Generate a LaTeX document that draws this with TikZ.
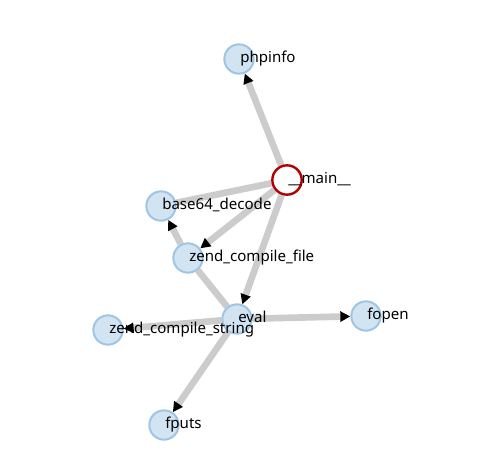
\documentclass[tikz,border=0pt]{standalone}
\usepackage{fontspec}
\setmainfont{Noto Sans}
\usetikzlibrary{arrows.meta,backgrounds}
\definecolor{edgegray}{RGB}{204,204,204}
\definecolor{fnfill}{RGB}{210,227,242}
\definecolor{fnline}{RGB}{158,197,227}
\definecolor{entryred}{RGB}{178,0,0}
\tikzset{
  fn/.style={circle,draw=fnline,fill=fnfill,line width=1.5pt,minimum size=22pt,inner sep=0pt},
  entry/.style={fn,draw=entryred,fill=white,line width=1.8pt},
  fnlabel/.style={anchor=base west,inner sep=0pt,xshift=0.75pt,yshift=-2.5pt,
    font=\fontsize{11.3}{13}\selectfont},
  call/.style={draw=edgegray,line width=5pt,-{Triangle[length=7.5pt,width=7.5pt,color=black]}},
  link/.style={draw=edgegray,line width=5pt},
}
\begin{document}
\begin{tikzpicture}[x=0.75pt,y=-0.75pt]
  \useasboundingbox (0,0) rectangle (481,475);
  \node[fn] (phpinfo) at (239,59) {};
  \node[entry] (main) at (287,180) {};
  \node[fn] (b64) at (161,206) {};
  \node[fn] (zcf) at (188,258) {};
  \node[fn] (eval) at (237,319) {};
  \node[fn] (fopen) at (366,316) {};
  \node[fn] (zcs) at (108,330) {};
  \node[fn] (fputs) at (164,425) {};
  % names start at the circle centres
  \node[fnlabel] (phpinfo-l) at (phpinfo.center) {phpinfo};
  \node[fnlabel] (main-l) at (main.center) {\_\_main\_\_};
  \node[fnlabel] (b64-l) at (b64.center) {base64\_decode};
  \node[fnlabel] (zcf-l) at (zcf.center) {zend\_compile\_file};
  \node[fnlabel] (eval-l) at (eval.center) {eval};
  \node[fnlabel] (fopen-l) at (fopen.center) {fopen};
  \node[fnlabel] (zcs-l) at (zcs.center) {zend\_compile\_string};
  \node[fnlabel] (fputs-l) at (fputs.center) {fputs};
  % call edges under the nodes
  \begin{pgfonlayer}{background}
    \draw[call] (main) -- (phpinfo);
    \draw[link] (main) -- (b64);
    \draw[call] (main) -- (zcf);
    \draw[call] (main) -- (eval);
    \draw[call] (zcf) -- (b64);
    \draw[link] (zcf) -- (eval);
    \draw[call] (eval) -- (fopen);
    \draw[call] (eval) -- (fputs);
    \draw[call] (eval) -- (zcs);
  \end{pgfonlayer}
\end{tikzpicture}
\end{document}
